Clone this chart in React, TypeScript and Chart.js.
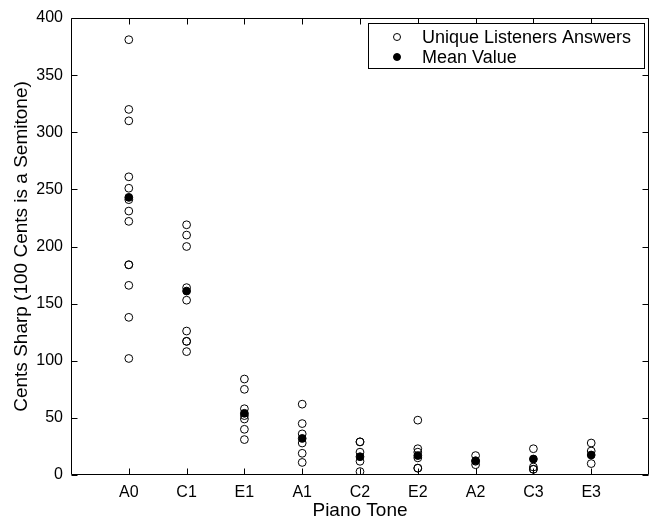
import React, { useEffect, useRef } from "react";
import { Chart, registerables } from "chart.js";

Chart.register(...registerables);

const categories = ["A0", "C1", "E1", "A1", "C2", "E2", "A2", "C3", "E3"];

const answersA0 = [381, 320, 310, 261, 251, 241, 231, 222, 184, 184, 166, 138, 102];
const answersC1 = [219, 210, 200, 164, 153, 126, 117, 117, 108];
const answersE1 = [84, 75, 58, 52, 49, 40, 31];
const answersA1 = [62, 45, 36, 28, 19, 11];
const answersC2 = [29, 29, 20, 12, 3];
const answersE2 = [48, 23, 20, 15, 6, 6];
const answersA2 = [17, 12, 9];
const answersC3 = [23, 7, 5, 5];
const answersE3 = [28, 21, 10];

const listenerAnswers = [
  answersA0, answersC1, answersE1, answersA1, answersC2,
  answersE2, answersA2, answersC3, answersE3,
];

const meanValues = [243, 161, 54, 32, 16, 17, 12.5, 14, 17.5];

const yTicks = [0, 50, 100, 150, 200, 250, 300, 350, 400];

const FONT = "'Liberation Sans', Arial, sans-serif";

export default function App() {
  const ref = useRef<HTMLCanvasElement | null>(null);

  useEffect(() => {
    if (!ref.current) return;

    const listenerPoints: { x: number; y: number }[] = [];
    listenerAnswers.forEach((arr, i) => {
      arr.forEach((v) => listenerPoints.push({ x: i + 1, y: v }));
    });
    const meanPoints = meanValues.map((v, i) => ({ x: i + 1, y: v }));

    const framePlugin = {
      id: "frame",
      afterDatasetsDraw(chart: any) {
        const { ctx, chartArea } = chart;
        const { left, right, top, bottom } = chartArea;
        const xs = chart.scales.x;
        const ys = chart.scales.y;
        ctx.save();
        ctx.strokeStyle = "#000";
        ctx.lineWidth = 1;
        const L = Math.round(left) + 0.5;
        const R = Math.round(right) - 0.5;
        const T = Math.round(top) + 0.5;
        const B = Math.round(bottom) - 0.5;
        ctx.beginPath();
        ctx.rect(L, T, R - L, B - T);
        ctx.stroke();
        const tl = 6;
        ctx.beginPath();
        categories.forEach((_, i) => {
          const x = Math.round(xs.getPixelForValue(i + 1)) + 0.5;
          ctx.moveTo(x, B);
          ctx.lineTo(x, B - tl);
          ctx.moveTo(x, T);
          ctx.lineTo(x, T + tl);
        });
        yTicks.forEach((v) => {
          const y = Math.round(ys.getPixelForValue(v)) + 0.5;
          ctx.moveTo(L, y);
          ctx.lineTo(L + tl, y);
          ctx.moveTo(R, y);
          ctx.lineTo(R - tl, y);
        });
        ctx.stroke();

        // legend
        const bx = 368.5, by = 23.5, bw = 276, bh = 45;
        ctx.fillStyle = "#fff";
        ctx.fillRect(bx, by, bw, bh);
        ctx.strokeRect(bx, by, bw, bh);
        const rows = [
          { label: "Unique Listeners Answers", filled: false, y: 37 },
          { label: "Mean Value", filled: true, y: 57 },
        ];
        ctx.font = `18px ${FONT}`;
        ctx.textBaseline = "middle";
        ctx.textAlign = "left";
        rows.forEach((r) => {
          ctx.beginPath();
          ctx.arc(397, r.y, 3.5, 0, Math.PI * 2);
          if (r.filled) {
            ctx.fillStyle = "#000";
            ctx.fill();
          }
          ctx.strokeStyle = "#000";
          ctx.stroke();
          ctx.fillStyle = "#000";
          ctx.fillText(r.label, 422, r.y + 1);
        });
        ctx.restore();
      },
    };

    const chart = new Chart(ref.current, {
      type: "scatter",
      data: {
        datasets: [
          {
            label: "Mean Value",
            data: meanPoints,
            pointStyle: "circle",
            pointRadius: 3.9,
            pointBackgroundColor: "#000",
            pointBorderColor: "#000",
            pointBorderWidth: 1,
            order: 0,
          },
          {
            label: "Unique Listeners Answers",
            data: listenerPoints,
            pointStyle: "circle",
            pointRadius: 3.9,
            pointBackgroundColor: "rgba(0,0,0,0)",
            pointBorderColor: "#000",
            pointBorderWidth: 1,
            order: 1,
          },
        ],
      },
      options: {
        responsive: false,
        animation: false,
        layout: { padding: { top: 18, right: 4, left: 0, bottom: 0 } },
        plugins: {
          legend: { display: false },
          tooltip: { enabled: false },
        },
        scales: {
          x: {
            type: "linear",
            min: 0,
            max: 10,
            grid: { display: false, drawTicks: false },
            border: { display: false },
            afterFit: (scale: any) => {
              scale.height = 48;
            },
            afterBuildTicks: (scale: any) => {
              scale.ticks = categories.map((_, i) => ({ value: i + 1 }));
            },
            ticks: {
              color: "#000",
              font: { family: FONT, size: 16 },
              padding: 8,
              maxRotation: 0,
              autoSkip: false,
              callback: (v: any) => categories[Number(v) - 1] ?? "",
            },
            title: {
              display: true,
              text: "Piano Tone",
              color: "#000",
              font: { family: FONT, size: 19 },
              padding: { top: 0, bottom: 1 },
            },
          },
          y: {
            type: "linear",
            min: 0,
            max: 400,
            grid: { display: false, drawTicks: false },
            border: { display: false },
            afterFit: (scale: any) => {
              scale.width = 71;
            },
            afterBuildTicks: (scale: any) => {
              scale.ticks = yTicks.map((v) => ({ value: v }));
            },
            ticks: {
              color: "#000",
              font: { family: FONT, size: 16 },
              padding: 8,
              autoSkip: false,
            },
            title: {
              display: true,
              text: "Cents Sharp (100 Cents is a Semitone)",
              color: "#000",
              font: { family: FONT, size: 19 },
              padding: { top: 10, bottom: 0 },
            },
          },
        },
      },
      plugins: [framePlugin],
    });

    return () => chart.destroy();
  }, []);

  return (
    <div style={{ position: "fixed", left: 0, top: 0, width: 654, height: 523, background: "#fff" }}>
      <canvas ref={ref} width={654} height={523} />
    </div>
  );
}
